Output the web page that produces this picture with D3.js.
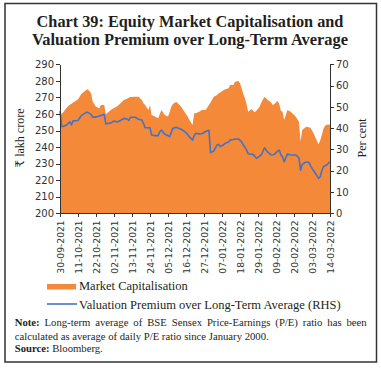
<!DOCTYPE html>
<html lang="en">
<head>
<meta charset="UTF-8">
<title>Chart 39: Equity Market Capitalisation and Valuation Premium</title>
<script src="https://d3js.org/d3.v7.min.js"></script>
<style>
  body { margin: 0; background: #fff; }
  svg { display: block; }
  .axis path, .axis line { stroke: #333; shape-rendering: crispEdges; }
  .axis text { font-family: "DejaVu Sans", sans-serif; fill: #333; }
  .serif { font-family: "Liberation Serif", "DejaVu Serif", serif; fill: #231f20; }
</style>
</head>
<body>
<div id="chart"></div>
<script>
// dates (dd-mm-yyyy), market cap (₹ lakh crore, LHS), valuation premium (per cent, RHS)
const dates = [
  "30-09-2021","01-10-2021","02-10-2021","04-10-2021","06-10-2021","07-10-2021","08-10-2021","11-10-2021",
  "13-10-2021","16-10-2021","17-10-2021","19-10-2021","20-10-2021","22-10-2021","24-10-2021","25-10-2021",
  "27-10-2021","28-10-2021","31-10-2021","02-11-2021","04-11-2021","06-11-2021","08-11-2021","10-11-2021",
  "11-11-2021","12-11-2021","15-11-2021","17-11-2021","19-11-2021","20-11-2021","21-11-2021","23-11-2021",
  "24-11-2021","25-11-2021","27-11-2021","29-11-2021","30-11-2021","01-12-2021","03-12-2021","05-12-2021",
  "06-12-2021","07-12-2021","08-12-2021","10-12-2021","11-12-2021","13-12-2021","15-12-2021","16-12-2021",
  "17-12-2021","18-12-2021","20-12-2021","21-12-2021","22-12-2021","24-12-2021","26-12-2021","28-12-2021",
  "30-12-2021","31-12-2021","02-01-2022","04-01-2022","05-01-2022","06-01-2022","08-01-2022","09-01-2022",
  "11-01-2022","12-01-2022","14-01-2022","15-01-2022","17-01-2022","18-01-2022","19-01-2022","20-01-2022",
  "21-01-2022","22-01-2022","23-01-2022","25-01-2022","26-01-2022","27-01-2022","28-01-2022","30-01-2022",
  "31-01-2022","02-02-2022","04-02-2022","06-02-2022","07-02-2022","08-02-2022","10-02-2022","11-02-2022",
  "12-02-2022","13-02-2022","14-02-2022","16-02-2022","18-02-2022","21-02-2022","23-02-2022","24-02-2022",
  "25-02-2022","27-02-2022","28-02-2022","01-03-2022","02-03-2022","03-03-2022","04-03-2022","05-03-2022",
  "07-03-2022","08-03-2022","09-03-2022","10-03-2022","11-03-2022","12-03-2022","14-03-2022"
];
const marketCap = [
  259.8,260.2,261.0,263.8,265.5,266.2,267.0,268.8,
  272.0,274.5,274.9,272.5,267.4,264.4,263.4,265.4,
  265.4,259.8,262.4,263.6,264.6,266.4,268.4,269.2,
  269.8,270.2,270.4,270.4,268.4,266.4,265.4,262.4,
  265.4,259.4,258.4,257.4,260.0,262.4,259.4,258.4,
  261.0,264.4,266.0,267.4,266.4,264.4,261.4,260.0,
  258.4,256.5,253.3,260.4,260.4,261.4,262.5,262.4,
  265.4,267.0,270.4,271.5,272.5,273.0,274.5,275.0,
  275.5,277.5,277.5,279.5,279.9,278.5,275.5,272.0,
  269.5,266.0,261.4,263.0,262.0,261.0,262.0,264.4,
  267.0,270.4,268.4,267.0,265.4,266.0,267.8,266.0,
  262.0,261.4,256.4,262.4,261.4,258.4,255.3,243.3,
  250.3,252.0,252.3,252.0,251.7,250.0,248.3,246.0,
  241.7,244.0,247.3,251.0,252.9,253.5,253.7
];
const premium = [
  48.0,40.8,40.8,41.5,43.0,41.5,43.4,43.6,
  45.9,47.4,47.4,46.5,45.2,45.2,45.7,46.0,
  46.5,42.0,42.4,43.4,42.9,43.6,44.6,44.3,
  43.6,45.1,45.1,44.2,43.8,42.3,40.2,40.2,
  40.2,36.8,36.5,36.5,38.4,39.1,37.1,36.5,
  36.0,38.0,39.9,40.4,40.1,39.5,38.5,37.9,
  37.0,36.0,34.4,36.5,37.6,37.3,37.5,38.4,
  39.0,28.5,29.3,32.1,32.4,31.3,32.2,32.9,
  33.5,34.4,34.7,34.9,34.9,34.4,33.5,32.1,
  31.0,29.7,28.0,27.7,27.7,26.8,25.8,26.9,
  27.4,30.8,28.7,27.4,27.5,27.7,29.2,29.7,
  27.4,26.5,24.2,27.9,27.4,27.4,26.1,20.3,
  23.0,24.0,24.0,24.0,22.5,21.1,20.0,18.8,
  16.4,17.2,20.0,21.9,22.3,22.7,24.2
];
const xTickLabels = [
  "30-09-2021","11-10-2021","22-10-2021","02-11-2021","13-11-2021","24-11-2021","05-12-2021","16-12-2021",
  "27-12-2021","07-01-2022","18-01-2022","29-01-2022","09-02-2022","20-02-2022","03-03-2022","14-03-2022"
];
const leftTicks = [200, 210, 220, 230, 240, 250, 260, 270, 280, 290];
const rightTicks = [0, 10, 20, 30, 40, 50, 60, 70];
const seriesNames = ["Market Capitalisation", "Valuation Premium over Long-Term Average (RHS)"];

const W = 381, H = 368;
const orange = "#f5893a", blue = "#4472c4";
const parse = d3.timeParse("%d-%m-%Y");
const fmt = d3.timeFormat("%d-%m-%Y");
const data = dates.map((d, i) => ({ date: parse(d), mcap: marketCap[i], prem: premium[i] }));

const plot = { left: 60, right: 330, top: 64.3, bottom: 213.3 };

const svg = d3.select("#chart").append("svg").attr("width", W).attr("height", H);

// outer frame
svg.append("rect")
  .attr("x", 5).attr("y", 3.5).attr("width", 371.5).attr("height", 358.5)
  .attr("fill", "none").attr("stroke", "#333").attr("stroke-width", 1.5);

// helper: scale font so that text has the given width
function fitWidth(sel, target) {
  const fs = parseFloat(sel.attr("font-size"));
  const w = sel.node().getComputedTextLength();
  sel.attr("font-size", (fs * target / w).toFixed(2));
}

// title
const t1 = svg.append("text").attr("class", "serif").attr("x", 190).attr("y", 27)
  .attr("text-anchor", "middle").attr("font-weight", "bold").attr("font-size", 17)
  .text("Chart 39: Equity Market Capitalisation and");
fitWidth(t1, 307);
const t2 = svg.append("text").attr("class", "serif").attr("x", 190).attr("y", 45)
  .attr("text-anchor", "middle").attr("font-weight", "bold").attr("font-size", 17)
  .text("Valuation Premium over Long-Term Average");
fitWidth(t2, 316);

// scales
const x = d3.scaleTime().domain([parse("30-09-2021"), parse("14-03-2022")]).range([plot.left, plot.right]);
const yL = d3.scaleLinear().domain([200, 290]).range([plot.bottom, plot.top]);
const yR = d3.scaleLinear().domain([0, 70]).range([plot.bottom, plot.top]);

// market cap area
const area = d3.area().x(d => x(d.date)).y0(yL(200)).y1(d => yL(d.mcap));
svg.append("path").datum(data).attr("fill", orange).attr("d", area);

// valuation premium line
const line = d3.line().x(d => x(d.date)).y(d => yR(d.prem));
svg.append("path").datum(data).attr("fill", "none").attr("stroke", blue)
  .attr("stroke-width", 1.6).attr("stroke-linejoin", "round").attr("d", line);

// axes
svg.append("g").attr("class", "axis").attr("transform", `translate(${plot.left},0)`)
  .call(d3.axisLeft(yL).tickValues(leftTicks).tickSize(4).tickSizeOuter(0).tickPadding(2))
  .selectAll("text").attr("font-size", 10);

svg.append("g").attr("class", "axis").attr("transform", `translate(${plot.right},0)`)
  .call(d3.axisRight(yR).tickValues(rightTicks).tickSize(4).tickSizeOuter(0).tickPadding(2))
  .selectAll("text").attr("font-size", 10);

svg.append("g").attr("class", "axis").attr("transform", `translate(0,${plot.bottom})`)
  .call(d3.axisBottom(x).tickValues(xTickLabels.map(parse)).tickFormat(fmt).tickSize(4).tickSizeOuter(0))
  .selectAll("text")
  .attr("font-size", 9.2)
  .attr("transform", "rotate(-90)")
  .attr("x", -7).attr("y", 0).attr("dy", "0.35em")
  .style("text-anchor", "end");

svg.selectAll(".axis").attr("font-family", null);

// axis titles
svg.append("text").attr("class", "serif").attr("font-size", 12)
  .attr("transform", "translate(24,138) rotate(-90)").attr("text-anchor", "middle")
  .text("₹ lakh crore");
svg.append("text").attr("class", "serif").attr("font-size", 12)
  .attr("transform", "translate(366,138) rotate(-90)").attr("text-anchor", "middle")
  .text("Per cent");

// legend
svg.append("rect").attr("x", 47).attr("y", 284).attr("width", 29).attr("height", 5.5).attr("fill", orange);
svg.append("text").attr("class", "serif").attr("x", 79).attr("y", 290).attr("font-size", 12.5)
  .text(seriesNames[0]);
svg.append("line").attr("x1", 47).attr("x2", 77).attr("y1", 304).attr("y2", 304)
  .attr("stroke", blue).attr("stroke-width", 1.6);
svg.append("text").attr("class", "serif").attr("x", 79).attr("y", 308.5).attr("font-size", 12.5)
  .text(seriesNames[1]);

// note and source
const noteX = 14.7, noteRight = 366.7;
const n2 = svg.append("text").attr("class", "serif").attr("x", noteX).attr("y", 339.5).attr("font-size", 10)
  .text("calculated as average of daily P/E ratio since January 2000.");
fitWidth(n2, 254);
const noteFs = +n2.attr("font-size");

// first line, justified word by word
const words = ["Note:", "Long-term", "average", "of", "BSE", "Sensex", "Price-Earnings", "(P/E)", "ratio", "has", "been"];
const wordNodes = words.map((w, i) => svg.append("text").attr("class", "serif").attr("y", 325.5)
  .attr("font-size", noteFs).attr("font-weight", i === 0 ? "bold" : null).text(w));
const totalW = d3.sum(wordNodes, n => n.node().getComputedTextLength());
const gap = (noteRight - noteX - totalW) / (words.length - 1);
let cx = noteX;
wordNodes.forEach(n => { n.attr("x", cx); cx += n.node().getComputedTextLength() + gap; });

const src = svg.append("text").attr("class", "serif").attr("x", noteX).attr("y", 352).attr("font-size", noteFs);
src.append("tspan").attr("font-weight", "bold").text("Source:");
src.append("tspan").text(" Bloomberg.");
</script>
</body>
</html>
